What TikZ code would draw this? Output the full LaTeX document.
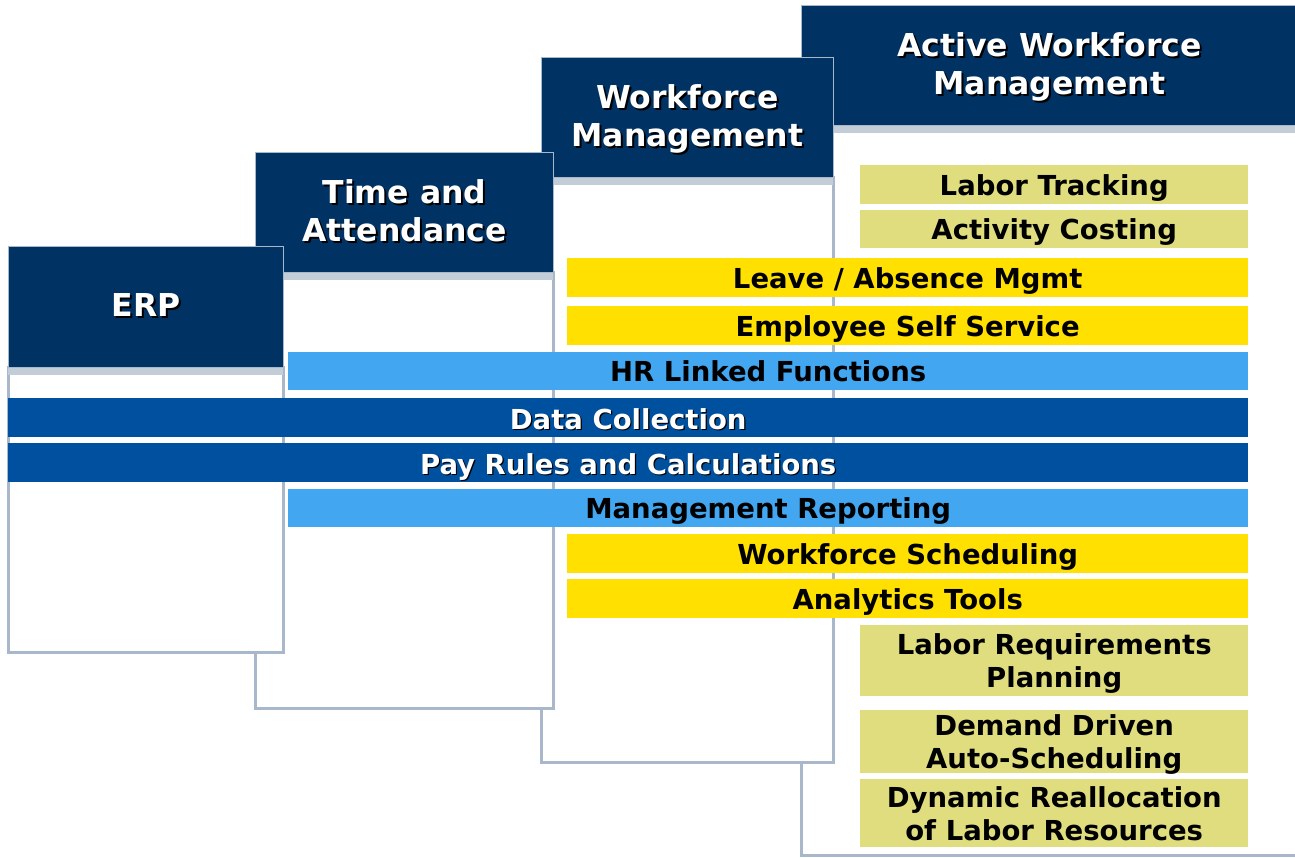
\documentclass[tikz,border=0pt]{standalone}
\usepackage{fontspec}
\setmainfont{DejaVu Sans}
\usetikzlibrary{positioning}

\definecolor{navy}{HTML}{003264}
\definecolor{deepblue}{HTML}{0050A0}
\definecolor{skyblue}{HTML}{42A6F0}
\definecolor{gold}{HTML}{FFE000}
\definecolor{khaki}{HTML}{E0DD7F}
\definecolor{rim}{HTML}{A8B7CA}
\definecolor{strip}{HTML}{C3CDD8}

% white text with a black drop shadow
\newcommand{\stack}[1]{\begin{tabular}{@{}c@{}}#1\end{tabular}}
\newcommand{\embossed}[2][2pt]{\rlap{\hspace{#1}\raisebox{-#1}{\color{black}\stack{#2}}}\stack{#2}}
% header titles sit a little lower in their box
\newcommand{\headline}[1]{\raisebox{-3pt}[\height][\depth]{\embossed{#1}}}

\begin{document}
\begin{tikzpicture}[x=1pt,y=-1pt,
    head/.style={draw=rim, line width=1pt, fill=navy, text=white, anchor=north west,
      inner sep=0pt, font=\fontsize{31.5}{38}\selectfont\bfseries},
    lane/.style={anchor=north west, inner sep=0pt, align=center, text depth=0pt,
      font=\fontsize{27.5}{33}\selectfont\bfseries},
    body/.style={draw=rim, line width=3pt, fill=white},
  ]
  \useasboundingbox (0,0) rectangle (1295,857);
  \clip (0,0) rectangle (1295,857);

  % Active Workforce Management
  \draw [body] (801,125) rectangle (1299,855);
  \fill [strip] (801,125) rectangle (1299,133);
  \node [head, minimum width=496, minimum height=120] (awm) at (801,5)
    {\headline{Active Workforce\\Management}};

  % Workforce Management
  \draw [body] (541,177) rectangle (833,762);
  \fill [strip] (541,177) rectangle (833,185);
  \node [head, minimum width=292, minimum height=120] (wfm) at (541,57)
    {\headline{Workforce\\Management}};

  % Time and Attendance
  \draw [body] (255,272) rectangle (553,708);
  \fill [strip] (255,272) rectangle (553,280);
  \node [head, minimum width=298, minimum height=120] (ta) at (255,152)
    {\headline{Time and\\Attendance}};

  % ERP
  \draw [body] (8,367) rectangle (283,652);
  \fill [strip] (8,367) rectangle (283,375);
  \node [head, minimum width=275, minimum height=121] (erp) at (8,246)
    {\headline{ERP}};

  % functions
  \node [lane, fill=khaki, minimum width=388, minimum height=39] (tracking) at (860,165) {Labor Tracking};
  \node [lane, fill=khaki, minimum width=388, minimum height=38] (costing) at (860,210) {Activity Costing};
  \node [lane, fill=gold, minimum width=681, minimum height=39] (leave) at (567,258) {Leave / Absence Mgmt};
  \node [lane, fill=gold, minimum width=681, minimum height=39] (selfserv) at (567,306) {Employee Self Service};
  \node [lane, fill=skyblue, minimum width=960, minimum height=38] (hrlink) at (288,352) {HR Linked Functions};
  \node [lane, fill=deepblue, text=white, minimum width=1240, minimum height=39] (datacoll) at (8,398)
    {\embossed[1.2pt]{Data Collection}};
  \node [lane, fill=deepblue, text=white, minimum width=1240, minimum height=39] (payrules) at (8,443)
    {\embossed[1.2pt]{Pay Rules and Calculations}};
  \node [lane, fill=skyblue, minimum width=960, minimum height=38] (mgmtrep) at (288,489) {Management Reporting};
  \node [lane, fill=gold, minimum width=681, minimum height=39] (sched) at (567,534) {Workforce Scheduling};
  \node [lane, fill=gold, minimum width=681, minimum height=39] (analytics) at (567,579) {Analytics Tools};
  \node [lane, fill=khaki, minimum width=388, minimum height=71] (reqplan) at (860,625) {Labor Requirements\\Planning};
  \node [lane, fill=khaki, minimum width=388, minimum height=63] (autosched) at (860,710) {Demand Driven\\Auto-Scheduling};
  \node [lane, fill=khaki, minimum width=388, minimum height=68] (realloc) at (860,779) {Dynamic Reallocation\\of Labor Resources};
\end{tikzpicture}
\end{document}
